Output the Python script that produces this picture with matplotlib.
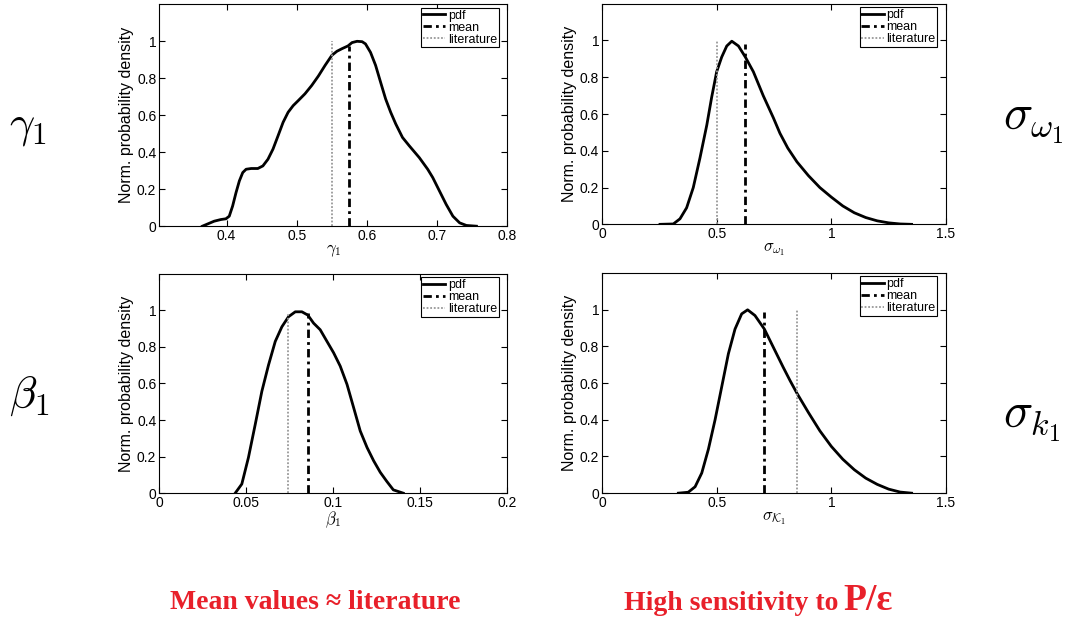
import matplotlib.pyplot as plt

plt.rcParams['font.family'] = ['Liberation Sans', 'DejaVu Sans']
plt.rcParams['mathtext.fontset'] = 'cm'

# gamma_1 panel
g_x = [0.3656, 0.3824, 0.392, 0.3991, 0.4039, 0.4087, 0.4135, 0.4183, 0.4231, 0.4279,
       0.4351, 0.4446, 0.4518, 0.459, 0.4662, 0.4734, 0.4806, 0.4877, 0.4949, 0.5021,
       0.5117, 0.5213, 0.5308, 0.5404, 0.55, 0.5572, 0.5644, 0.573, 0.5787, 0.5859,
       0.5931, 0.5979, 0.6051, 0.6123, 0.6194, 0.6266, 0.6338, 0.641, 0.6506, 0.6602,
       0.6745, 0.6865, 0.6937, 0.7033, 0.7128, 0.7224, 0.732, 0.7416, 0.7559]
g_y = [0.0, 0.027, 0.036, 0.040, 0.054, 0.109, 0.181, 0.245, 0.290, 0.308,
       0.312, 0.312, 0.326, 0.362, 0.417, 0.489, 0.562, 0.616, 0.652, 0.679,
       0.716, 0.761, 0.812, 0.870, 0.924, 0.946, 0.960, 0.975, 0.993, 1.0,
       0.998, 0.986, 0.940, 0.870, 0.779, 0.688, 0.616, 0.553, 0.480, 0.435,
       0.371, 0.308, 0.263, 0.190, 0.118, 0.054, 0.018, 0.004, 0.0]

# sigma_omega_1 panel
w_x = [0.253, 0.311, 0.34, 0.369, 0.398, 0.427, 0.457, 0.478, 0.50, 0.522, 0.544, 0.566,
       0.595, 0.625, 0.66, 0.703, 0.747, 0.776, 0.81, 0.85, 0.90, 0.95, 1.0, 1.05, 1.1,
       1.15, 1.2, 1.25, 1.3, 1.35]
w_y = [0.0, 0.002, 0.03, 0.09, 0.20, 0.36, 0.54, 0.69, 0.83, 0.91, 0.97, 0.996,
       0.97, 0.91, 0.83, 0.70, 0.58, 0.495, 0.415, 0.34, 0.265, 0.2, 0.148, 0.1, 0.063,
       0.037, 0.019, 0.008, 0.002, 0.0]

# beta_1 panel
b_x = [0.0437, 0.0475, 0.0513, 0.0552, 0.059, 0.0628, 0.0667, 0.0705, 0.0743, 0.0782,
       0.082, 0.0854, 0.0887, 0.0925, 0.0964, 0.1002, 0.104, 0.1079, 0.1117, 0.1155,
       0.1194, 0.1232, 0.127, 0.1307, 0.1345, 0.1402]
b_y = [0.0, 0.05, 0.195, 0.376, 0.557, 0.70, 0.83, 0.91, 0.965, 0.992,
       0.992, 0.974, 0.93, 0.894, 0.83, 0.768, 0.695, 0.595, 0.468, 0.34,
       0.25, 0.177, 0.114, 0.065, 0.018, 0.0]

# sigma_K_1 panel
k_x = [0.333, 0.376, 0.406, 0.435, 0.464, 0.493, 0.522, 0.551, 0.58, 0.609, 0.635, 0.667,
       0.708, 0.747, 0.79, 0.82, 0.85, 0.90, 0.95, 1.0, 1.05, 1.1, 1.15, 1.2, 1.25,
       1.3, 1.35]
k_y = [0.0, 0.005, 0.035, 0.11, 0.24, 0.40, 0.58, 0.76, 0.895, 0.978, 1.0, 0.969,
       0.895, 0.796, 0.687, 0.614, 0.545, 0.44, 0.34, 0.255, 0.185, 0.128, 0.082, 0.048,
       0.022, 0.006, 0.0]

means = [0.575, 0.625, 0.0854, 0.708]
mean_tops = [0.975, 0.98, 0.985, 0.99]
lits = [0.55, 0.5, 0.0743, 0.85]
lit_tops = [1.0, 1.0, 0.98, 1.0]

xlims = [(0.304, 0.8), (0, 1.5), (0, 0.2), (0, 1.5)]
xticks = [[0.4, 0.5, 0.6, 0.7, 0.8], [0, 0.5, 1, 1.5], [0, 0.05, 0.1, 0.15, 0.2], [0, 0.5, 1, 1.5]]
xticklabels = [['0.4', '0.5', '0.6', '0.7', '0.8'], ['0', '0.5', '1', '1.5'],
               ['0', '0.05', '0.1', '0.15', '0.2'], ['0', '0.5', '1', '1.5']]
xlabels = [r'$\gamma_1$', r'$\sigma_{\omega_1}$', r'$\beta_1$', r'$\sigma_{\mathcal{K}_1}$']
curves = [(g_x, g_y), (w_x, w_y), (b_x, b_y), (k_x, k_y)]

fig = plt.figure(figsize=(10.75, 6.18), dpi=100)
rects = [[0.148, 0.634, 0.324, 0.359], [0.560, 0.637, 0.320, 0.357],
         [0.148, 0.202, 0.324, 0.355], [0.560, 0.202, 0.320, 0.356]]

for i in range(4):
    ax = fig.add_axes(rects[i])
    cx, cy = curves[i]
    ax.plot(cx, cy, color='black', lw=2, label='pdf', solid_joinstyle='round')
    ax.plot([means[i], means[i]], [0, mean_tops[i]], color='black', lw=2,
            ls=(0, (3, 1.5, 1, 1.5)), label='mean')
    ax.plot([lits[i], lits[i]], [0, lit_tops[i]], color='#999999', lw=1.3, ls=(0, (1, 1)),
            label='literature')
    ax.set_xlim(*xlims[i])
    ax.set_ylim(0, 1.2)
    ax.set_xticks(xticks[i])
    ax.set_xticklabels(xticklabels[i])
    ax.set_yticks([0, 0.2, 0.4, 0.6, 0.8, 1])
    ax.set_yticklabels(['0', '0.2', '0.4', '0.6', '0.8', '1'])
    ax.tick_params(direction='in', top=True, right=True, labelsize=10, length=4, pad=2)
    ax.set_xlabel(xlabels[i], fontsize=12, labelpad=0)
    ax.set_ylabel('Norm. probability density', fontsize=11.5, labelpad=2)
    for s in ax.spines.values():
        s.set_linewidth(0.8)
    leg = ax.legend(loc='upper right', bbox_to_anchor=(0.975, 0.985), fontsize=9,
                    fancybox=False, framealpha=1, edgecolor='black', borderpad=0.15,
                    handlelength=1.8, handletextpad=0.2, labelspacing=0.0, borderaxespad=0)
    leg.get_frame().set_linewidth(0.8)

fig.text(9 / 1075, 1 - 136 / 618, r'$\gamma_1$', fontsize=32, ha='left', va='baseline')
fig.text(9 / 1075, 1 - 408 / 618, r'$\beta_1$', fontsize=32, ha='left', va='baseline')
fig.text(1003 / 1075, 1 - 130 / 618, r'$\sigma_{\omega_1}$', fontsize=35, ha='left', va='baseline')
fig.text(1003 / 1075, 1 - 428 / 618, r'$\sigma_{k_1}$', fontsize=35, ha='left', va='baseline')

red = '#e8202a'
fig.text(315 / 1075, 1 - 609 / 618, 'Mean values \u2248 literature', color=red, fontsize=20,
         fontweight='bold', family='Liberation Serif', ha='center', va='baseline')
fig.text(838 / 1075, 1 - 610 / 618, 'High sensitivity to', color=red, fontsize=20,
         fontweight='bold', family='Liberation Serif', ha='right', va='baseline')
fig.text(843 / 1075, 1 - 610 / 618, 'P/\u03b5', color=red, fontsize=27,
         fontweight='bold', family='Liberation Serif', ha='left', va='baseline')

fig.savefig('out.png', dpi=100)
